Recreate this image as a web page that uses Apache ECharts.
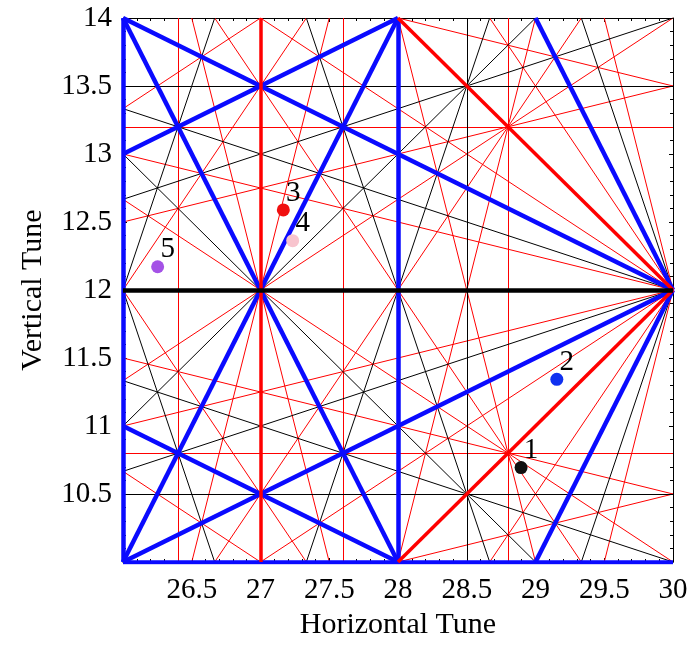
<!DOCTYPE html>
<html>
<head>
<meta charset="utf-8">
<script src="https://cdn.jsdelivr.net/npm/echarts@6/dist/echarts.min.js"></script>
<style>
html,body{margin:0;padding:0;background:#fff;}
#chart{width:696px;height:645px;}
</style>
</head>
<body>
<div id="chart"></div>
<script>
// Resonance line segments [x1, y1, x2, y2] (Horizontal Tune, Vertical Tune)
const order1Lines = [
  [26, 12, 30, 12]
];
const order2Lines = [
  [27, 10, 27, 14],
  [28, 14, 30, 12],
  [28, 10, 30, 12]
];
const order3Lines = [
  [26, 10, 26, 14],
  [28, 10, 28, 14],
  [26, 10, 30, 10],
  [26, 14, 28, 10],
  [29, 14, 30, 12],
  [26, 10, 28, 14],
  [29, 10, 30, 12],
  [26, 11, 28, 10],
  [26, 14, 30, 12],
  [26, 13, 28, 14],
  [26, 10, 30, 12]
];
const order4Lines = [
  [28.5, 10, 28.5, 14],
  [26, 10.5, 30, 10.5],
  [26, 13.5, 30, 13.5],
  [26, 12, 26.6667, 10],
  [27.3333, 14, 28.6667, 10],
  [29.3333, 14, 30, 12],
  [26, 12, 26.6667, 14],
  [27.3333, 10, 28.6667, 14],
  [29.3333, 10, 30, 12],
  [26, 13, 29, 10],
  [26, 11, 29, 14],
  [26, 11.3333, 30, 10],
  [26, 13.3333, 30, 12],
  [26, 12.6667, 30, 14],
  [26, 10.6667, 30, 12]
];
const order5Lines = [
  [26.4, 10, 26.4, 14],
  [27.6, 10, 27.6, 14],
  [28.8, 10, 28.8, 14],
  [26, 10.8, 30, 10.8],
  [26, 13.2, 30, 13.2],
  [26.5, 14, 27.5, 10],
  [28, 14, 29, 10],
  [29.5, 14, 30, 12],
  [26.5, 10, 27.5, 14],
  [28, 10, 29, 14],
  [29.5, 10, 30, 12],
  [26, 12, 27.3333, 10],
  [26.6667, 14, 29.3333, 10],
  [28.6667, 14, 30, 12],
  [26, 12, 27.3333, 14],
  [26.6667, 10, 29.3333, 14],
  [28.6667, 10, 30, 12],
  [26, 10.6667, 27, 10],
  [26, 12.6667, 30, 10],
  [27, 14, 30, 12],
  [26, 13.3333, 27, 14],
  [26, 11.3333, 30, 14],
  [27, 10, 30, 12],
  [26, 11.5, 30, 10.5],
  [26, 13, 30, 12],
  [28, 14, 30, 13.5],
  [26, 12.5, 30, 13.5],
  [26, 11, 30, 12],
  [28, 10, 30, 10.5]
];
// Working points
const pointLabels = ['1', '2', '3', '4', '5'];
const pointQx = [28.895, 29.155, 27.166, 27.234, 26.252];
const pointQy = [10.694, 11.343, 12.589, 12.363, 12.171];
const pointColors = ['#111111', '#1030f0', '#f01010', '#f8c4ce', '#a452e6'];
// Tick labels
const xTickLabels = ['26.5', '27', '27.5', '28', '28.5', '29', '29.5', '30'];
const yTickLabels = ['10.5', '11', '11.5', '12', '12.5', '13', '13.5', '14'];

const FONT = 'Liberation Serif';

function linesSeries(segs, color, width, z) {
  return {
    type: 'lines',
    coordinateSystem: 'cartesian2d',
    polyline: false,
    silent: true,
    z: z,
    lineStyle: { color: color, width: width, opacity: 1, type: 'solid' },
    data: segs.map(s => ({ coords: [[s[0], s[1]], [s[2], s[3]]] }))
  };
}

const axisCommon = {
  type: 'value',
  interval: 0.5,
  axisLine: { show: true, onZero: false, lineStyle: { color: '#000', width: 1 } },
  axisTick: { show: true, inside: true, length: 4, lineStyle: { color: '#000' } },
  minorTick: { show: true, splitNumber: 5, length: 3, lineStyle: { color: '#000' } },
  splitLine: { show: false },
  minorSplitLine: { show: false }
};

const chart = echarts.init(document.getElementById('chart'), null, { renderer: 'canvas' });
chart.setOption({
  animation: false,
  backgroundColor: '#fff',
  grid: { left: 123, right: 23, top: 18, bottom: 78, containLabel: false },
  xAxis: [
    Object.assign({}, axisCommon, {
      min: 26, max: 30, position: 'bottom',
      name: 'Horizontal Tune', nameLocation: 'middle', nameGap: 48,
      nameTextStyle: { fontFamily: FONT, fontSize: 30, color: '#000' },
      axisLabel: {
        show: true, margin: 14, color: '#000', fontFamily: FONT, fontSize: 29,
        formatter: v => { const s = String(+v.toFixed(1)); return xTickLabels.indexOf(s) >= 0 ? s : ''; }
      }
    }),
    Object.assign({}, axisCommon, {
      min: 26, max: 30, position: 'top', axisLabel: { show: false }
    })
  ],
  yAxis: [
    Object.assign({}, axisCommon, {
      min: 10, max: 14, position: 'left',
      name: 'Vertical Tune', nameLocation: 'middle', nameGap: 75,
      nameTextStyle: { fontFamily: FONT, fontSize: 30, color: '#000' },
      axisLabel: {
        show: true, margin: 11, color: '#000', fontFamily: FONT, fontSize: 29,
        formatter: v => { const s = String(+v.toFixed(1)); return yTickLabels.indexOf(s) >= 0 ? s : ''; }
      }
    }),
    Object.assign({}, axisCommon, {
      min: 10, max: 14, position: 'right', axisLabel: { show: false }
    })
  ],
  series: [
    linesSeries(order5Lines, '#ff0000', 1, 1),
    linesSeries(order4Lines, '#000000', 1, 2),
    linesSeries(order3Lines, '#0a0aff', 4.5, 3),
    linesSeries(order2Lines, '#ff0000', 3.5, 4),
    linesSeries(order1Lines, '#000000', 4.5, 5),
    {
      type: 'scatter',
      z: 10,
      symbol: 'circle',
      symbolSize: 13,
      data: pointLabels.map((l, i) => ({
        value: [pointQx[i], pointQy[i]],
        name: l,
        itemStyle: { color: pointColors[i], opacity: 1 }
      })),
      label: {
        show: true,
        position: 'inside',
        offset: [10, -17],
        formatter: p => p.name,
        color: '#000',
        fontFamily: FONT,
        fontSize: 29
      }
    }
  ]
});
</script>
</body>
</html>
